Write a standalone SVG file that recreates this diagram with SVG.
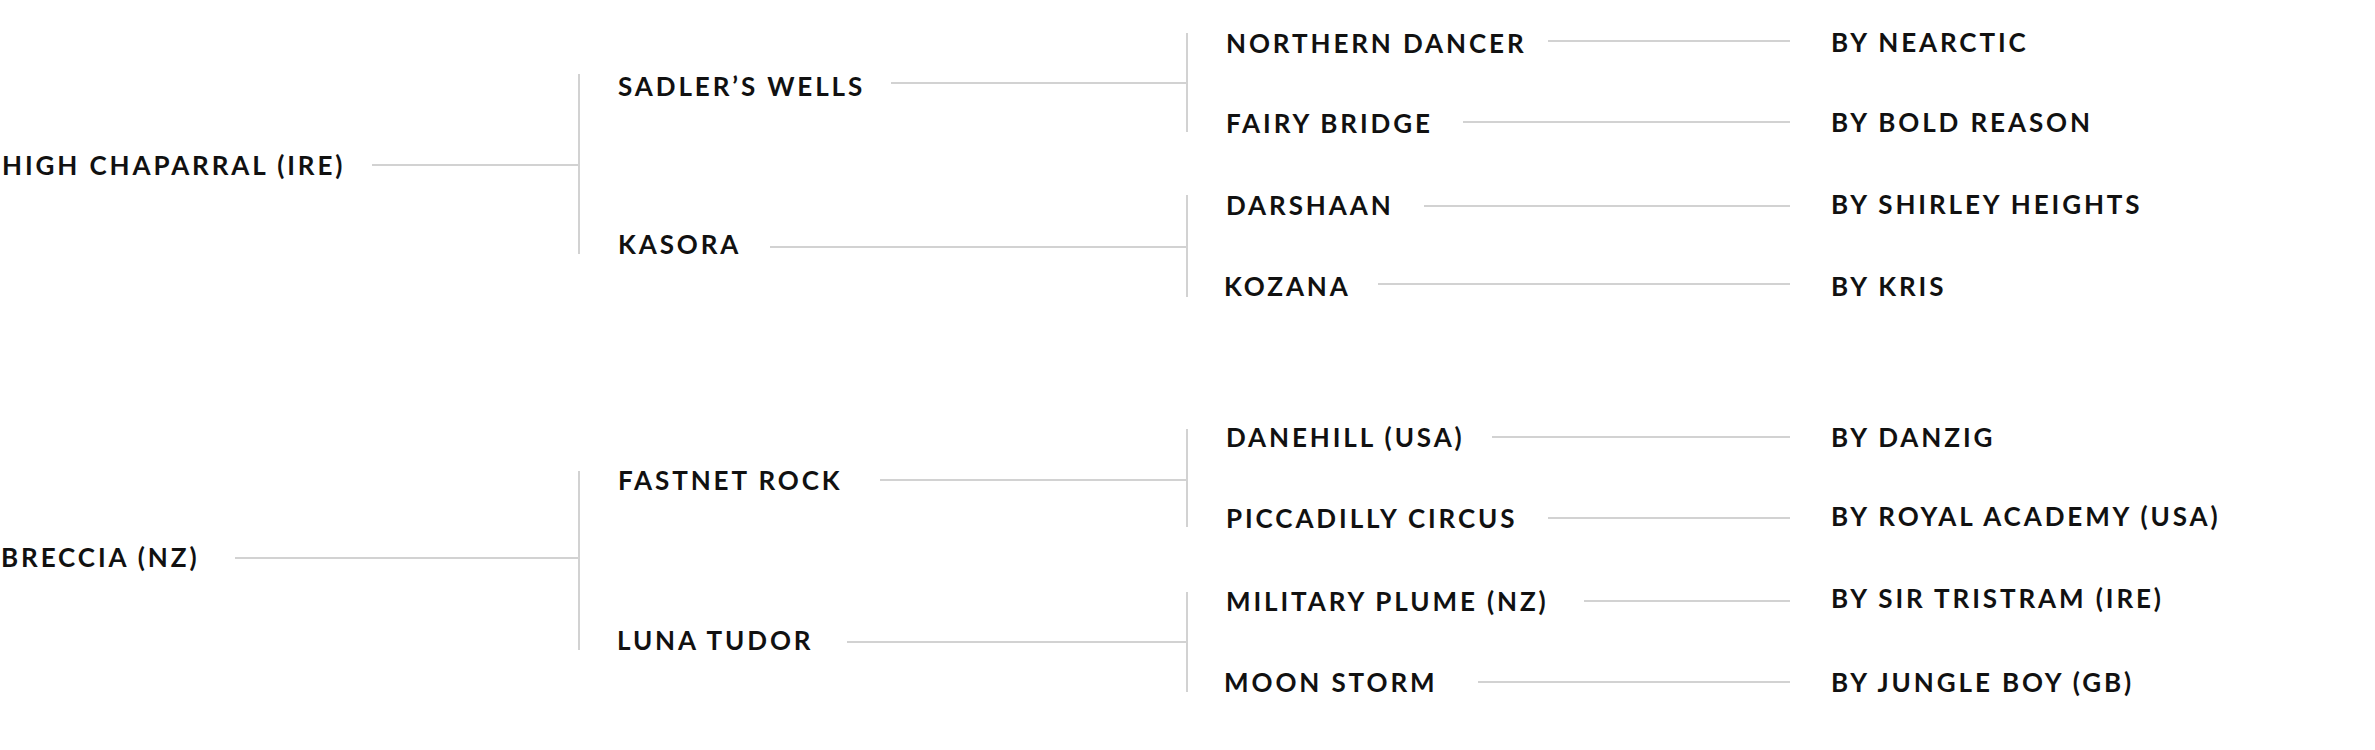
<svg xmlns="http://www.w3.org/2000/svg" width="2375" height="750" viewBox="0 0 2375 750">
<style>
text{font-family:Lato,"Liberation Sans",sans-serif;font-weight:700;font-size:26px;letter-spacing:2.9px;fill:#111}
.c line{stroke:#d2d2d2;stroke-width:2}
</style>
<rect width="2375" height="750" fill="#fff"/>
<g class="c" id="connectors">
<line x1="372" y1="165" x2="579" y2="165"/>
<line x1="579" y1="74" x2="579" y2="254"/>
<line x1="891" y1="83" x2="1187" y2="83"/>
<line x1="770" y1="247" x2="1187" y2="247"/>
<line x1="1187" y1="33" x2="1187" y2="132"/>
<line x1="1187" y1="195" x2="1187" y2="297"/>
<line x1="1548" y1="41" x2="1790" y2="41"/>
<line x1="1463" y1="122" x2="1790" y2="122"/>
<line x1="1424" y1="206" x2="1790" y2="206"/>
<line x1="1378" y1="284" x2="1790" y2="284"/>
<line x1="235" y1="558" x2="579" y2="558"/>
<line x1="579" y1="471" x2="579" y2="650"/>
<line x1="880" y1="480" x2="1187" y2="480"/>
<line x1="847" y1="642" x2="1187" y2="642"/>
<line x1="1187" y1="429" x2="1187" y2="527"/>
<line x1="1187" y1="592" x2="1187" y2="692"/>
<line x1="1492" y1="437" x2="1790" y2="437"/>
<line x1="1548" y1="518" x2="1790" y2="518"/>
<line x1="1584" y1="601" x2="1790" y2="601"/>
<line x1="1478" y1="682" x2="1790" y2="682"/>
</g>
<g id="high-chaparral"><text x="2" y="175">HIGH CHAPARRAL (IRE)</text></g>
<g id="sadlers-wells"><text x="618" y="96">SADLER’S WELLS</text></g>
<g id="kasora"><text x="618" y="254">KASORA</text></g>
<g id="northern-dancer"><text x="1226" y="53">NORTHERN DANCER</text></g>
<g id="fairy-bridge"><text x="1226" y="133">FAIRY BRIDGE</text></g>
<g id="darshaan"><text x="1226" y="215">DARSHAAN</text></g>
<g id="kozana"><text x="1224" y="296">KOZANA</text></g>
<g id="by-nearctic"><text x="1831" y="52">BY NEARCTIC</text></g>
<g id="by-bold-reason"><text x="1831" y="132">BY BOLD REASON</text></g>
<g id="by-shirley-heights"><text x="1831" y="214">BY SHIRLEY HEIGHTS</text></g>
<g id="by-kris"><text x="1831" y="296">BY KRIS</text></g>
<g id="breccia"><text x="1" y="567">BRECCIA (NZ)</text></g>
<g id="fastnet-rock"><text x="618" y="490">FASTNET ROCK</text></g>
<g id="luna-tudor"><text x="617" y="650">LUNA TUDOR</text></g>
<g id="danehill"><text x="1226" y="447">DANEHILL (USA)</text></g>
<g id="piccadilly-circus"><text x="1226" y="528">PICCADILLY CIRCUS</text></g>
<g id="military-plume"><text x="1226" y="611">MILITARY PLUME (NZ)</text></g>
<g id="moon-storm"><text x="1224" y="692">MOON STORM</text></g>
<g id="by-danzig"><text x="1831" y="447">BY DANZIG</text></g>
<g id="by-royal-academy"><text x="1831" y="526">BY ROYAL ACADEMY (USA)</text></g>
<g id="by-sir-tristram"><text x="1831" y="608">BY SIR TRISTRAM (IRE)</text></g>
<g id="by-jungle-boy"><text x="1831" y="692">BY JUNGLE BOY (GB)</text></g>
</svg>
